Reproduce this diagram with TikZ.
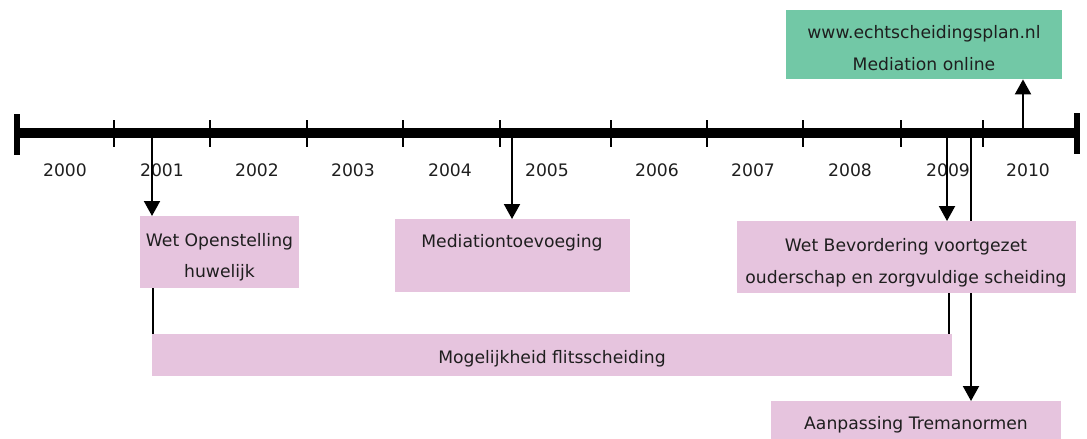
\documentclass[tikz,border=0pt]{standalone}
\usepackage{fontspec}
\setmainfont{DejaVu Sans}
\usetikzlibrary{arrows.meta}
\definecolor{pinkbox}{HTML}{E6C4DE}
\definecolor{greenbox}{HTML}{72C8A6}
\definecolor{txt}{HTML}{1E1E1E}
\begin{document}
\begin{tikzpicture}[x=1pt,y=-1pt,
  box/.style={fill=#1, draw=none, inner sep=0pt, anchor=north west},
  lbl/.style={text=txt, font=\fontsize{17.2}{20}\selectfont, inner sep=0pt, anchor=base},
  conn/.style={line width=2pt, black},
  arr/.style={conn, -{Triangle[width=16pt,length=15pt]}},
  tickmark/.style={line width=2pt}]
\useasboundingbox (0,0) rectangle (1087,439);
% timeline
\draw[line width=10pt] (15,133) -- (1079,133);
\draw[line width=6pt] (17,114) -- (17,155);
\draw[line width=6pt] (1077,113) -- (1077,154);
\foreach \x in {114,210,307,403,500,611,707,803,901,983}
  \draw[tickmark] (\x,120) -- (\x,147);
\foreach \x/\yr in {65/2000,162/2001,257/2002,353/2003,450/2004,547/2005,657/2006,753/2007,850/2008,948/2009,1028/2010}
  \node[lbl] (y\yr) at (\x,176) {\yr};
% anchor points on the bar
\coordinate (p01) at (152,133);
\coordinate (p05) at (512,133);
\coordinate (p09a) at (947,133);
\coordinate (p09b) at (971,133);
\coordinate (p10) at (1023,133);
% connector hidden behind box
\draw[arr] (p09b) -- (971,401);
% boxes
\node[box=pinkbox, minimum width=159pt, minimum height=72pt] (wo) at (140,216) {};
\node[box=pinkbox, minimum width=235pt, minimum height=73pt] (med) at (395,219) {};
\node[box=pinkbox, minimum width=800pt, minimum height=42pt] (mog) at (152,334) {};
\node[box=pinkbox, minimum width=339pt, minimum height=72pt] (wb) at (737,221) {};
\node[box=pinkbox, minimum width=290pt, minimum height=38pt] (aan) at (771,401) {};
\node[box=greenbox, minimum width=276pt, minimum height=69pt] (web) at (786,10) {};
% texts
\node[lbl] (wo1) at (219.5,246) {Wet Openstelling};
\node[lbl] (wo2) at (219.5,277) {huwelijk};
\node[lbl] (med1) at (512,247) {Mediationtoevoeging};
\node[lbl] (mog1) at (552,363) {Mogelijkheid flitsscheiding};
\node[lbl] (wb1) at (906,251) {Wet Bevordering voortgezet};
\node[lbl] (wb2) at (906,283) {ouderschap en zorgvuldige scheiding};
\node[lbl] (aan1) at (916,429) {Aanpassing Tremanormen};
\node[lbl] (web1) at (924,38) {www.echtscheidingsplan.nl};
\node[lbl] (web2) at (924,70) {Mediation online};
% connectors
\draw[arr] (p01) -- (p01 |- wo.north);
\draw[conn] (153,288) -- (153,334);
\draw[arr] (p05) -- (p05 |- med.north);
\draw[arr] (p09a) -- (p09a |- wb.north);
\draw[conn] (949,293) -- (949,334);
\draw[arr] (p10) -- (p10 |- web.south);
\end{tikzpicture}
\end{document}
